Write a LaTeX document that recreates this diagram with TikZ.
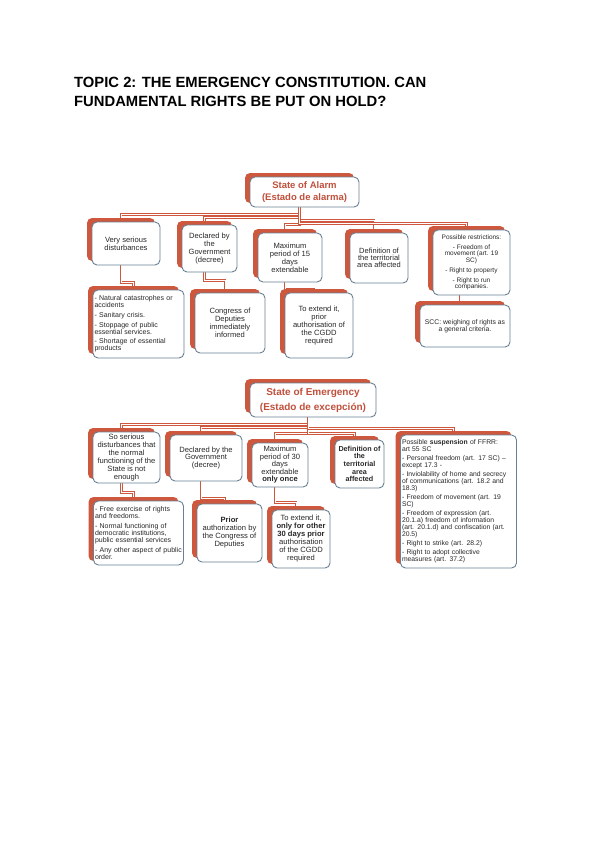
\documentclass[tikz,border=0pt]{standalone}
\usepackage{fontspec}
\setmainfont{Liberation Sans}
\usetikzlibrary{shadows,backgrounds}
\definecolor{sred}{RGB}{205,88,62}
\definecolor{tred}{RGB}{192,80,60}
\definecolor{bord}{RGB}{105,128,148}
\definecolor{txt}{RGB}{40,40,40}
\newcommand\myfs[2]{\fontsize{#1}{#2}\selectfont}
\tikzset{
  bx/.style={draw=bord, line width=0.9pt, fill=white, rounded corners=5pt,
    inner sep=1.5pt, align=center, text=txt,
    general shadow={fill=sred, shadow xshift=-5pt, shadow yshift=4pt},
    font=\myfs{7.6}{8}},
  ttl/.style={bx, text=tred},
  conn/.style={draw=sred, line width=0.75pt, double=white, double distance=0.9pt},
  head/.style={anchor=base west, inner sep=0pt, font=\myfs{14.8}{19}\bfseries, text=black},
}
\begin{document}
\begin{tikzpicture}[x=1pt,y=-1pt]
\useasboundingbox (0,0) rectangle (600,848);

% Heading
\node[head] (H1) at (74,87.5) {TOPIC 2: THE EMERGENCY CONSTITUTION. CAN};
\node[head] (H2) at (74,106.5) {FUNDAMENTAL RIGHTS BE PUT ON HOLD?};

% ---------- State of Alarm ----------
\node[ttl, font=\myfs{9.5}{12.7}\bfseries, minimum width=109pt, minimum height=30pt] (TA) at (304.5,192) {State of Alarm\\(Estado de alarma)};

\node[bx, minimum width=68pt, minimum height=43pt] (A1) at (126,243.5) {Very serious\\disturbances};
\node[bx, minimum width=55pt, minimum height=47pt] (A2) at (209.5,248.5) {Declared by\\the\\Government\\(decree)};
\node[bx, minimum width=64pt, minimum height=49pt] (A3) at (290,257.5) {Maximum\\period of 15\\days\\extendable};
\node[bx, minimum width=58pt, minimum height=50pt, font=\myfs{7.5}{7.2}] (A4) at (379,258) {Definition of\\the territorial\\area affected};
\node[bx, minimum width=77pt, minimum height=65pt, font=\myfs{6.5}{6.7}] (A5) at (471.5,262.5) {Possible restrictions:\\[3pt]- Freedom of\\movement (art. 19\\SC)\\[3pt]- Right to property\\[3pt]- Right to run\\companies.};
\node[bx, minimum width=90pt, minimum height=42pt, font=\myfs{6.8}{7.5}] (A6) at (465,326) {SCC: weighing of rights as\\a general criteria.};

\node[bx, text width=88pt, minimum height=68pt, align=left, font=\myfs{7}{6.8}] (A1b) at (138.5,324) {- Natural catastrophes or\\accidents\\[3pt]- Sanitary crisis.\\[3pt]- Stoppage of public\\essential services.\\[3pt]- Shortage of essential\\products};
\node[bx, minimum width=70pt, minimum height=60pt] (A2b) at (230,323) {Congress of\\Deputies\\immediately\\informed};
\node[bx, minimum width=68pt, minimum height=65pt, font=\myfs{7.6}{7.8}] (A3b) at (319,325.5) {To extend it,\\prior\\authorisation of\\the CGDD\\required};

% ---------- State of Emergency ----------
\node[ttl, font=\myfs{10}{15}\bfseries, minimum width=126pt, minimum height=34pt] (TE) at (313,400) {State of Emergency\\(Estado de excepción)};

\node[bx, minimum width=67pt, minimum height=51pt] (E1) at (126.5,457.5) {So serious\\disturbances that\\the normal\\functioning of the\\State is not\\enough};
\node[bx, minimum width=72pt, minimum height=46pt, font=\myfs{7.6}{7.4}] (E2) at (206,458) {Declared by the\\Government\\(decree)};
\node[bx, minimum width=56pt, minimum height=44pt, font=\myfs{7.6}{7.5}] (E3) at (280,465) {Maximum\\period of 30\\days\\extendable\\\textbf{only once}};
\node[bx, minimum width=49pt, minimum height=48pt, font=\myfs{7.2}{7.6}\bfseries] (E4) at (359.5,464) {Definition of\\the\\territorial\\area\\affected};
\node[bx, text width=113pt, minimum height=133pt, align=left, font=\myfs{6.8}{6.8}] (E5) at (458.5,501.5) {Possible \textbf{suspension} of FFRR:\\art 55 SC\\[2.5pt]- Personal freedom (art. 17 SC) --\\except 17.3 -\\[2.5pt]- Inviolability of home and secrecy\\of communications (art. 18.2 and\\18.3)\\[2.5pt]- Freedom of movement (art. 19\\SC)\\[2.5pt]- Freedom of expression (art.\\20.1.a) freedom of information\\(art. 20.1.d) and confiscation (art.\\20.5)\\[2.5pt]- Right to strike (art. 28.2)\\[2.5pt]- Right to adopt collective\\measures (art. 37.2)};

\node[bx, text width=87pt, minimum height=64pt, align=left, font=\myfs{7}{7}] (E1b) at (138.5,533) {- Free exercise of rights\\and freedoms.\\[3pt]- Normal functioning of\\democratic institutions,\\public essential services\\[3pt]- Any other aspect of public\\order.};
\node[bx, minimum width=65pt, minimum height=58pt] (E2b) at (229.5,533) {\textbf{Prior}\\authorization by\\the Congress of\\Deputies};
\node[bx, minimum width=58pt, minimum height=58pt] (E3b) at (301,539) {To extend it,\\\textbf{only for other}\\\textbf{30 days prior}\\authorisation\\of the CGDD\\required};

\coordinate (a6t) at ([xshift=-5pt]A6.north);

% ---------- connectors ----------
\begin{scope}[on background layer]
\draw[conn] ([xshift=-5pt]TA.south) -- ++(0,7)  -| ([xshift=-5pt]A1.north);
\draw[conn] ([xshift=-5pt]TA.south) -- ++(0,10) -| ([xshift=-5pt]A2.north);
\draw[conn] ([xshift=-5pt]TA.south) -- ++(0,17) -| ([xshift=-5pt]A3.north);
\draw[conn] ([xshift=-5pt]TA.south) -- ++(0,13) -| ([xshift=-5pt]A4.north);
\draw[conn] ([xshift=-5pt]TA.south) -- ++(0,16) -| ([xshift=-5pt]A5.north);
\draw[conn] ([xshift=-5pt]A1.south) -- ++(0,17) -| ([xshift=-5pt]A1b.north);
\draw[conn] ([xshift=-5pt]A2.south) -- ++(0,8)  -| ([xshift=-5pt]A2b.north);
\draw[conn] ([xshift=-5pt]A3.south) -- ++(0,7)  -| ([xshift=-5pt]A3b.north);
\draw[conn] (a6t |- A5.south) -- (a6t);

\draw[conn] ([xshift=-5pt]TE.south) -- ++(0,7)  -| ([xshift=-5pt]E1.north);
\draw[conn] ([xshift=-5pt]TE.south) -- ++(0,10) -| ([xshift=-5pt]E2.north);
\draw[conn] ([xshift=-5pt]TE.south) -- ++(0,16) -| ([xshift=-5pt]E3.north);
\draw[conn] ([xshift=-5pt]TE.south) -- ++(0,16) -| ([xshift=-5pt]E4.north);
\draw[conn] ([xshift=-5pt]TE.south) -- ++(0,11) -| ([xshift=-5pt]E5.north);
\draw[conn] ([xshift=-5pt]E1.south) -- ++(0,9)  -| ([xshift=-5pt]E1b.north);
\draw[conn] ([xshift=-5pt]E2.south) -- ++(0,17) -| ([xshift=-5pt]E2b.north);
\draw[conn] ([xshift=-5pt]E3.south) -- ++(0,15) -| ([xshift=-5pt]E3b.north);
\end{scope}
\end{tikzpicture}
\end{document}
